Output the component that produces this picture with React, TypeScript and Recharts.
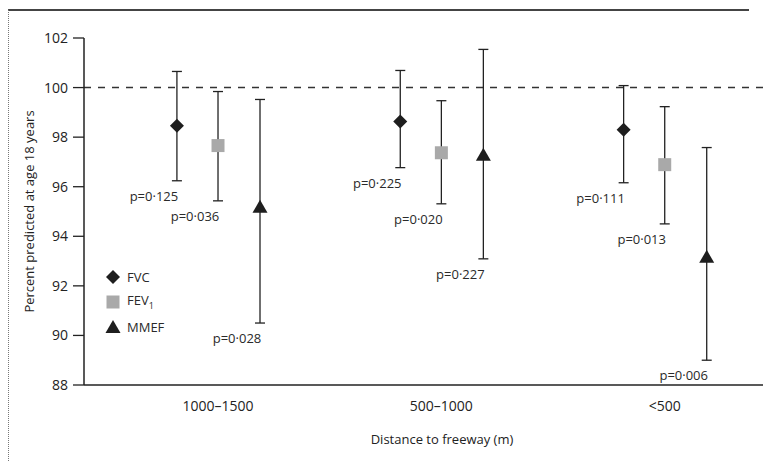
import {
  ErrorBar,
  Label,
  Legend,
  ReferenceLine,
  Scatter,
  ScatterChart,
  XAxis,
  YAxis,
} from "recharts";

const groups = ["1000–1500", "500–1000", "<500"];

const fvcMean = [98.46, 98.63, 98.3];
const fvcLow = [96.24, 96.77, 96.16];
const fvcHigh = [100.65, 100.69, 100.08];
const fvcP = ["p=0·125", "p=0·225", "p=0·111"];

const fev1Mean = [97.66, 97.37, 96.89];
const fev1Low = [95.43, 95.31, 94.5];
const fev1High = [99.84, 99.47, 99.23];
const fev1P = ["p=0·036", "p=0·020", "p=0·013"];

const mmefMean = [95.15, 97.25, 93.13];
const mmefLow = [90.5, 93.09, 89.0];
const mmefHigh = [99.52, 101.54, 97.58];
const mmefP = ["p=0·028", "p=0·227", "p=0·006"];

const yTicks = [88, 90, 92, 94, 96, 98, 100, 102];

const INK = "#222";
const FONT = "'Open Sans', sans-serif";

function buildRows(mean: number[], low: number[], high: number[], shift: number) {
  return mean.map((m, i) => ({
    x: i + 1 + shift,
    y: m,
    err: [m - low[i], high[i] - m],
  }));
}

function buildLabels(low: number[], p: string[], shift: number) {
  return low.map((l, i) => ({ x: i + 1 + shift, y: l, p: p[i] }));
}

const fvcRows = buildRows(fvcMean, fvcLow, fvcHigh, -0.184);
const fev1Rows = buildRows(fev1Mean, fev1Low, fev1High, 0);
const mmefRows = buildRows(mmefMean, mmefLow, mmefHigh, 0.188);
const pRows = [
  ...buildLabels(fvcLow, fvcP, -0.184),
  ...buildLabels(fev1Low, fev1P, 0),
  ...buildLabels(mmefLow, mmefP, 0.188),
];

function Diamond({ cx, cy }: any) {
  const r = 7;
  return (
    <polygon
      points={`${cx},${cy - r} ${cx + r},${cy} ${cx},${cy + r} ${cx - r},${cy}`}
      fill="#1e1e1e"
    />
  );
}

function Square({ cx, cy }: any) {
  const r = 6.5;
  return <rect x={cx - r} y={cy - r} width={r * 2} height={r * 2} fill="#a9a9a9" />;
}

function Triangle({ cx, cy }: any) {
  return (
    <polygon
      points={`${cx},${cy - 8} ${cx + 7.5},${cy + 5} ${cx - 7.5},${cy + 5}`}
      fill="#1e1e1e"
    />
  );
}

function PLabel({ cx, cy, payload }: any) {
  return (
    <text
      x={cx - 23}
      y={cy + 20}
      textAnchor="middle"
      fontSize={13}
      fontFamily={FONT}
      fill="#2a2a2a"
    >
      {payload.p}
    </text>
  );
}

function LegendBox() {
  const items = [
    { name: "FVC", icon: <Diamond cx={8} cy={8} /> },
    {
      name: (
        <>
          FEV<sub style={{ fontSize: 9 }}>1</sub>
        </>
      ),
      icon: <Square cx={8} cy={8} />,
    },
    { name: "MMEF", icon: <Triangle cx={8} cy={9} /> },
  ];
  return (
    <div style={{ fontFamily: FONT, fontSize: 13, color: "#2a2a2a" }}>
      {items.map((it, i) => (
        <div key={i} style={{ display: "flex", alignItems: "center", height: 25 }}>
          <svg width={16} height={16} style={{ marginRight: 6 }}>
            {it.icon}
          </svg>
          <span>{it.name}</span>
        </div>
      ))}
    </div>
  );
}

export default function App() {
  return (
    <div
      style={{
        position: "absolute",
        left: 0,
        top: 0,
        width: 763,
        height: 462,
        background: "#fff",
        overflow: "hidden",
      }}
    >
      <div
        style={{
          position: "absolute",
          left: 8,
          top: 9,
          width: 740,
          height: 460,
          borderTop: "2px solid #444",
          borderLeft: "1px dotted #777",
        }}
      />
      <ScatterChart
        width={763}
        height={462}
        margin={{ top: 38, right: 0, bottom: 17, left: 0 }}
        style={{ position: "absolute", left: 0, top: 0 }}
      >
        <XAxis
          type="number"
          dataKey="x"
          domain={[0.4, 3.44]}
          ticks={[1, 2, 3]}
          tickFormatter={(v) => groups[v - 1]}
          axisLine={{ stroke: INK, strokeWidth: 1.5 }}
          tickLine={false}
          tickMargin={10}
          tick={{ fill: INK, fontSize: 14, fontFamily: FONT }}
          height={60}
        >
          <Label
            content={({ viewBox }: any) => (
              <text
                x={442}
                y={viewBox.y + 59}
                textAnchor="middle"
                fontSize={13}
                fontFamily={FONT}
                fill={INK}
              >
                Distance to freeway (m)
              </text>
            )}
          />
        </XAxis>
        <YAxis
          type="number"
          dataKey="y"
          domain={[88, 102]}
          ticks={yTicks}
          width={84}
          tickSize={11}
          tickMargin={5}
          axisLine={{ stroke: INK, strokeWidth: 1.5 }}
          tickLine={{ stroke: INK, strokeWidth: 1.3 }}
          tick={{ fill: INK, fontSize: 14, fontFamily: FONT }}
        >
          <Label
            content={({ viewBox }: any) => (
              <text
                x={31}
                y={viewBox.y + viewBox.height / 2}
                transform={`rotate(-90 31 ${viewBox.y + viewBox.height / 2})`}
                textAnchor="middle"
                dominantBaseline="middle"
                fontSize={13}
                fontFamily={FONT}
                fill={INK}
              >
                Percent predicted at age 18 years
              </text>
            )}
          />
        </YAxis>
        <ReferenceLine y={100} stroke="#333" strokeWidth={1.5} strokeDasharray="7 7" />
        <Legend
          layout="vertical"
          align="center"
          verticalAlign="middle"
          content={() => <LegendBox />}
          wrapperStyle={{ left: 105, top: 264, width: 100, height: 75 }}
        />
        <Scatter data={fvcRows} shape={<Diamond />} isAnimationActive={false}>
          <ErrorBar dataKey="err" direction="y" width={5} stroke={INK} strokeWidth={1.3} />
        </Scatter>
        <Scatter data={fev1Rows} shape={<Square />} isAnimationActive={false}>
          <ErrorBar dataKey="err" direction="y" width={5} stroke={INK} strokeWidth={1.3} />
        </Scatter>
        <Scatter data={mmefRows} shape={<Triangle />} isAnimationActive={false}>
          <ErrorBar dataKey="err" direction="y" width={5} stroke={INK} strokeWidth={1.3} />
        </Scatter>
        <Scatter data={pRows} shape={<PLabel />} legendType="none" isAnimationActive={false} />
      </ScatterChart>
    </div>
  );
}
